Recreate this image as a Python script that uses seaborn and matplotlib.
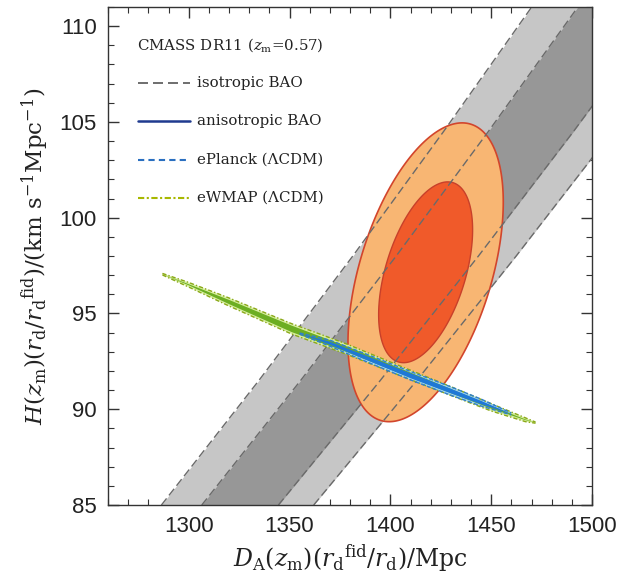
import numpy as np
import matplotlib
matplotlib.use("Agg")
import matplotlib.pyplot as plt
from matplotlib.ticker import MultipleLocator
import seaborn as sns
import pandas as pd

# ---------------- data ----------------
# isotropic BAO band edges: D_A values at the listed H values
band_H = [85.0, 91.5, 98.0, 104.5, 111.0]
iso_light_left = [1286.5, 1334.8, 1381.4, 1426.4, 1470.1]
iso_dark_left = [1306.5, 1355.5, 1402.9, 1448.6, 1493.0]
iso_dark_right = [1344.5, 1395.0, 1443.7, 1490.8, 1536.4]
iso_light_right = [1362.0, 1413.1, 1462.4, 1510.2, 1556.4]

# anisotropic BAO ellipses (centre, half extents, correlation)
aniso_center = (1417.5, 97.15)
aniso_1sig_halfwidth = (23.3, 4.72)
aniso_2sig_halfwidth = (38.5, 7.8)
aniso_rho = 0.47

# eWMAP (LCDM) streak: centre line and vertical half thickness
ewmap_x = [1287, 1300, 1320, 1351, 1378, 1405, 1430, 1450, 1467, 1472]
ewmap_y = [97.05, 96.5, 95.6, 94.2, 93.15, 92.0, 90.95, 90.1, 89.45, 89.3]
ewmap_outer_hw = [0.04, 0.12, 0.21, 0.27, 0.27, 0.25, 0.23, 0.19, 0.10, 0.03]
ewmap_inner_hw = [0.00, 0.03, 0.11, 0.17, 0.15, 0.13, 0.11, 0.07, 0.02, 0.00]

# ePlanck (LCDM) streak
eplanck_x = [1355, 1370, 1390, 1410, 1430, 1445, 1460]
eplanck_y = [93.95, 93.45, 92.6, 91.75, 90.95, 90.35, 89.75]
eplanck_outer_hw = [0.03, 0.16, 0.20, 0.22, 0.22, 0.18, 0.05]
eplanck_inner_hw = [0.00, 0.08, 0.11, 0.13, 0.12, 0.09, 0.00]

legend_labels = ["isotropic BAO", "anisotropic BAO", "ePlanck (\u039bCDM)", "eWMAP (\u039bCDM)"]
legend_title = "CMASS DR11 ($z_{\\rm m}$=0.57)"
x_limits = (1260, 1500)
y_limits = (85, 111)

# ---------------- style ----------------
sns.set_style("ticks")
plt.rcParams["font.family"] = ["Liberation Sans", "DejaVu Sans"]
plt.rcParams["mathtext.fontset"] = "dejavuserif"

fig = plt.figure(figsize=(6.37, 5.81), dpi=100)
ax = fig.add_axes([108 / 637, 76 / 581, 484 / 637, 498 / 581])

light_gray = "#c6c6c6"
dark_gray = "#979797"
dash_col = "#6a6a6a"

# isotropic bands
ax.fill_betweenx(band_H, iso_light_left, iso_light_right, color=light_gray, lw=0, zorder=1)
ax.fill_betweenx(band_H, iso_dark_left, iso_dark_right, color=dark_gray, lw=0, zorder=2)

# anisotropic ellipses
t = np.linspace(0, 2 * np.pi, 300)
def ell(hw):
    cx, cy = aniso_center
    a, b = hw
    return cx + a * np.cos(t), cy + b * (aniso_rho * np.cos(t) + np.sqrt(1 - aniso_rho ** 2) * np.sin(t))

ex, ey = ell(aniso_2sig_halfwidth)
ax.fill(ex, ey, facecolor="#f8b673", edgecolor="#d2452c", lw=1.2, zorder=3)
ex, ey = ell(aniso_1sig_halfwidth)
ax.fill(ex, ey, facecolor="#f05a2a", edgecolor="#c8402a", lw=1.0, zorder=4)

# dashed band edges over everything
edges = pd.DataFrame({
    "H": band_H * 4,
    "D": iso_light_left + iso_dark_left + iso_dark_right + iso_light_right,
    "edge": ["ll"] * 5 + ["dl"] * 5 + ["dr"] * 5 + ["lr"] * 5,
})
for name, grp in edges.groupby("edge"):
    sns.lineplot(data=grp, x="D", y="H", ax=ax, color=dash_col, lw=1.0,
                 linestyle=(0, (6, 2.8)), sort=False, estimator=None, zorder=5, legend=False)

# CMB streaks
def streak(x, y, hw_out, hw_in, c_out, c_in, c_edge, ls):
    x = np.asarray(x, float); y = np.asarray(y, float)
    ho = np.asarray(hw_out); hi = np.asarray(hw_in)
    ax.fill_between(x, y - ho, y + ho, facecolor=c_out, edgecolor="none", zorder=6)
    ax.fill_between(x, y - hi, y + hi, facecolor=c_in, edgecolor="none", zorder=7)
    ax.plot(x, y + ho, color=c_edge, lw=1.0, ls=ls, zorder=8)
    ax.plot(x, y - ho, color=c_edge, lw=1.0, ls=ls, zorder=8)

streak(ewmap_x, ewmap_y, ewmap_outer_hw, ewmap_inner_hw, "#d8efa0", "#6cae22", "#8aa818", (0, (3, 1.5, 1, 1.5)))
streak(eplanck_x, eplanck_y, eplanck_outer_hw, eplanck_inner_hw, "#a2d7f4", "#1f78d6", "#2f7fd0", (0, (3, 1.5)))

# axes
ax.set_xlim(*x_limits)
ax.set_ylim(*y_limits)
ax.xaxis.set_major_locator(MultipleLocator(50))
ax.xaxis.set_minor_locator(MultipleLocator(10))
ax.yaxis.set_major_locator(MultipleLocator(5))
ax.yaxis.set_minor_locator(MultipleLocator(1))
ax.tick_params(which="both", direction="in", top=True, right=True, colors="#333333", labelcolor="#222222")
ax.tick_params(which="major", length=8, width=1.0, labelsize=16, pad=8)
ax.tick_params(which="minor", length=4, width=0.8)
for s in ax.spines.values():
    s.set_color("#333333")
    s.set_linewidth(1.0)
    s.set_zorder(10)

ax.set_xlabel(r"$D_{\rm A}(z_{\rm m})(r_{\rm d}{}^{\rm fid}/r_{\rm d})/{\rm Mpc}$", fontsize=17, labelpad=4, color="#222222")
ax.set_ylabel(r"$H(z_{\rm m})(r_{\rm d}/r_{\rm d}{}^{\rm fid})/({\rm km\ s^{-1}Mpc^{-1}})$", fontsize=16.5, labelpad=6, color="#222222")

# legend drawn as a key block in axes coordinates
def fx(px):
    return (px - 108) / 484
def fy(py):
    return (505 - py) / 498

serif = ["DejaVu Serif"]
ax.text(fx(137), fy(45), legend_title, transform=ax.transAxes, ha="left", va="center",
        fontsize=10.8, family=serif, color="#222222", zorder=12)
key_styles = [
    dict(color="#555555", lw=1.2, ls=(0, (6, 3))),
    dict(color="#1f3a8f", lw=1.8, ls="-"),
    dict(color="#2a6fc0", lw=1.5, ls=(0, (3, 2))),
    dict(color="#a8b800", lw=1.5, ls=(0, (3, 1.2, 1, 1.2))),
]
rows_py = [83, 121, 160, 198]
for lab, st, py in zip(legend_labels, key_styles, rows_py):
    ax.plot([fx(138), fx(190)], [fy(py), fy(py)], transform=ax.transAxes, zorder=12, **st)
    ax.text(fx(197), fy(py), lab, transform=ax.transAxes, ha="left", va="center",
            fontsize=10.8, family=serif, color="#222222", zorder=12)

fig.savefig("out.png", dpi=100)
